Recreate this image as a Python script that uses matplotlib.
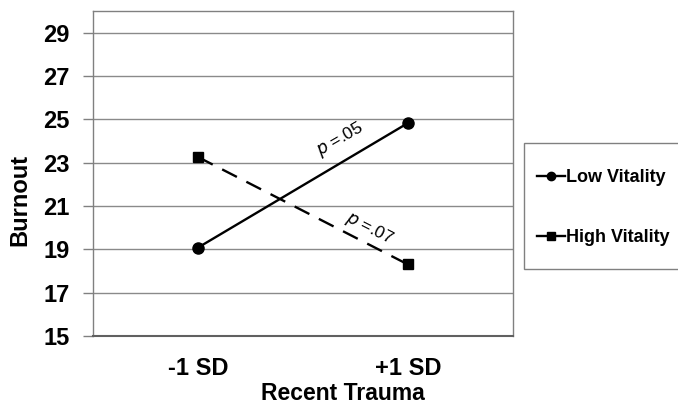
import matplotlib
matplotlib.use("Agg")
import matplotlib.pyplot as plt
from matplotlib.lines import Line2D
from matplotlib.patches import Rectangle

plt.rcParams['font.family'] = ['Liberation Sans', 'DejaVu Sans']

categories = ['-1 SD', '+1 SD']
low_vitality = [19.08, 24.83]
high_vitality = [23.26, 18.3]
yticks = [15, 17, 19, 21, 23, 25, 27, 29]

W, H = 678, 404
fig = plt.figure(figsize=(W/100, H/100), dpi=100)
ax = fig.add_axes([93/W, 1-336/H, 420/W, 325/H])

x = list(range(len(categories)))
ax.plot(x, low_vitality, color='black', lw=1.7, marker='o', ms=8, label='Low Vitality', zorder=3)
ax.plot(x, high_vitality, color='black', lw=1.7, marker='s', ms=7.5, dashes=(7, 4.5), label='High Vitality', zorder=3)

ax.set_xlim(-0.5, 1.5)
ax.set_ylim(15, 30)
ax.set_yticks(yticks)
ax.set_yticklabels([str(t) for t in yticks], fontsize=17, fontweight='bold')
ax.set_xticks(x)
ax.set_xticklabels(categories, fontsize=17, fontweight='bold')
ax.tick_params(axis='x', length=0, pad=15)
ax.tick_params(axis='y', length=7, width=1, color='#808080', pad=10)
ax.yaxis.grid(True, color='#8a8a8a', lw=1)
ax.set_axisbelow(True)
for s in ['left', 'right', 'top']:
    ax.spines[s].set_color('#808080')
    ax.spines[s].set_linewidth(1)
ax.spines['bottom'].set_color('#606060')
ax.spines['bottom'].set_linewidth(1.5)

ax.set_ylabel('Burnout', fontsize=17, fontweight='bold')
ax.yaxis.set_label_coords(-0.174, 0.418)
ax.yaxis.label.set_va('center')
ax.set_xlabel('Recent Trauma', fontsize=16.5, fontweight='bold')
ax.xaxis.set_label_coords(0.595, -0.198)
ax.xaxis.label.set_va('baseline')

ax.text(0.676, 24.05, r'$\it{p}$ =.05', fontsize=12.5, rotation=30, ha='center', va='center')
ax.text(0.814, 19.97, r'$\it{p}$ =.07', fontsize=12.5, rotation=-27, ha='center', va='center')

# legend frame
fig.add_artist(Rectangle((524/W, 1-269/H), 170/W, 126/H, transform=fig.transFigure,
                         facecolor='white', edgecolor='#808080', lw=1, zorder=1))
handles = [Line2D([], [], color='black', lw=1.7, marker='o', ms=6),
           Line2D([], [], color='black', lw=1.7, marker='s', ms=6)]
leg = fig.legend(handles, ['Low Vitality', 'High Vitality'], loc='center left',
                 bbox_to_anchor=(537/W, 1-207.5/H), borderaxespad=0,
                 prop={'weight': 'bold', 'size': 13}, frameon=False,
                 handlelength=1.55, handletextpad=0.08, labelspacing=2.4, borderpad=0)
leg.set_zorder(2)

fig.savefig('out.png', dpi=100)
